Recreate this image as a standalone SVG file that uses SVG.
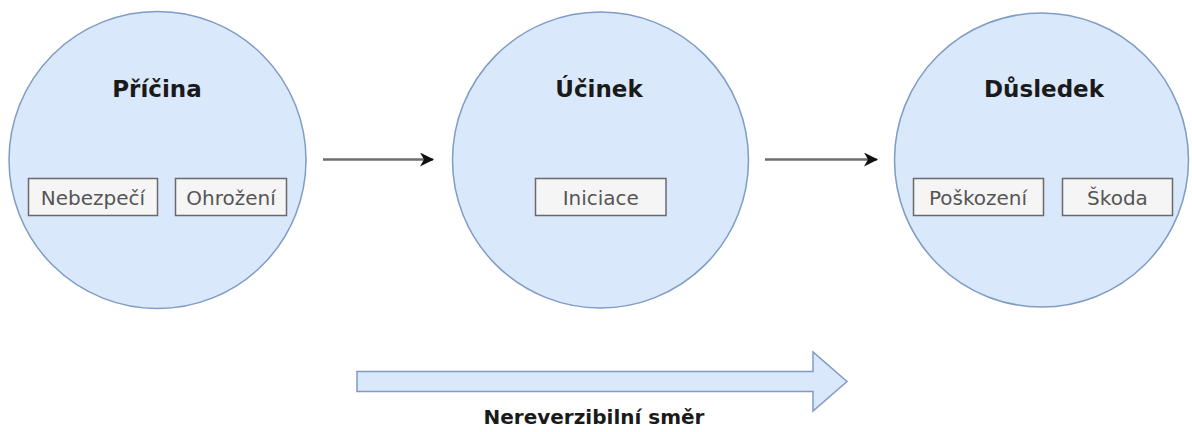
<svg xmlns="http://www.w3.org/2000/svg" width="1192" height="432" viewBox="0 0 1192 432">
  <defs>
    <style>
      .stage { fill: #dae8fc; stroke: #7f9cc4; stroke-width: 1.5; }
      .title { font-family: "DejaVu Sans", sans-serif; font-weight: bold; font-size: 23px; fill: #1a1a1a; text-anchor: middle; }
      .tag { fill: #f5f5f5; stroke: #6a6a6a; stroke-width: 1.5; }
      .tag-text { font-family: "DejaVu Sans", sans-serif; font-size: 20px; fill: #555555; text-anchor: middle; }
      .link { fill: none; stroke: #6e6e6e; stroke-width: 2.5; }
      .flow { fill: #dae8fc; stroke: #7f9cc4; stroke-width: 1.5; }
      .caption { font-family: "DejaVu Sans", sans-serif; font-weight: bold; font-size: 20px; fill: #1a1a1a; text-anchor: middle; }
    </style>
    <marker id="head" markerUnits="userSpaceOnUse" viewBox="0 0 14 14" markerWidth="14" markerHeight="14" refX="13" refY="7" orient="auto">
      <path d="M0,0 L14,7 L0,14 L4,7 Z" fill="#111111"/>
    </marker>
  </defs>

  <rect width="1192" height="432" fill="#ffffff"/>

  <!-- Cause -->
  <g id="pricina">
    <circle class="stage" cx="157.5" cy="160" r="148.5"/>
    <text class="title" x="157" y="97">Příčina</text>
    <rect class="tag" x="28.5" y="178.5" width="129" height="37"/>
    <text class="tag-text" x="93" y="204.5">Nebezpečí</text>
    <rect class="tag" x="175.5" y="178.5" width="111" height="37"/>
    <text class="tag-text" x="231" y="204.5">Ohrožení</text>
  </g>

  <!-- Effect -->
  <g id="ucinek">
    <circle class="stage" cx="600.5" cy="160" r="148"/>
    <text class="title" x="599" y="97">Účinek</text>
    <rect class="tag" x="535.5" y="178.5" width="130.5" height="37"/>
    <text class="tag-text" x="600.8" y="204.5">Iniciace</text>
  </g>

  <!-- Consequence -->
  <g id="dusledek">
    <circle class="stage" cx="1041.5" cy="160" r="147"/>
    <text class="title" x="1044" y="97">Důsledek</text>
    <rect class="tag" x="913.5" y="178.5" width="130" height="37"/>
    <text class="tag-text" x="978" y="204.5">Poškození</text>
    <rect class="tag" x="1062.5" y="178.5" width="110" height="37"/>
    <text class="tag-text" x="1117.5" y="204.5">Škoda</text>
  </g>

  <!-- Connectors -->
  <g id="connectors">
    <line class="link" x1="323" y1="159.5" x2="433" y2="159.5" marker-end="url(#head)"/>
    <line class="link" x1="765" y1="159.5" x2="877" y2="159.5" marker-end="url(#head)"/>
  </g>

  <!-- Direction banner -->
  <g id="smer">
    <path class="flow" d="M357,371.5 L813,371.5 L813,352 L847,381.5 L813,411 L813,391.5 L357,391.5 Z"/>
    <text class="caption" x="594" y="424">Nereverzibilní směr</text>
  </g>
</svg>
